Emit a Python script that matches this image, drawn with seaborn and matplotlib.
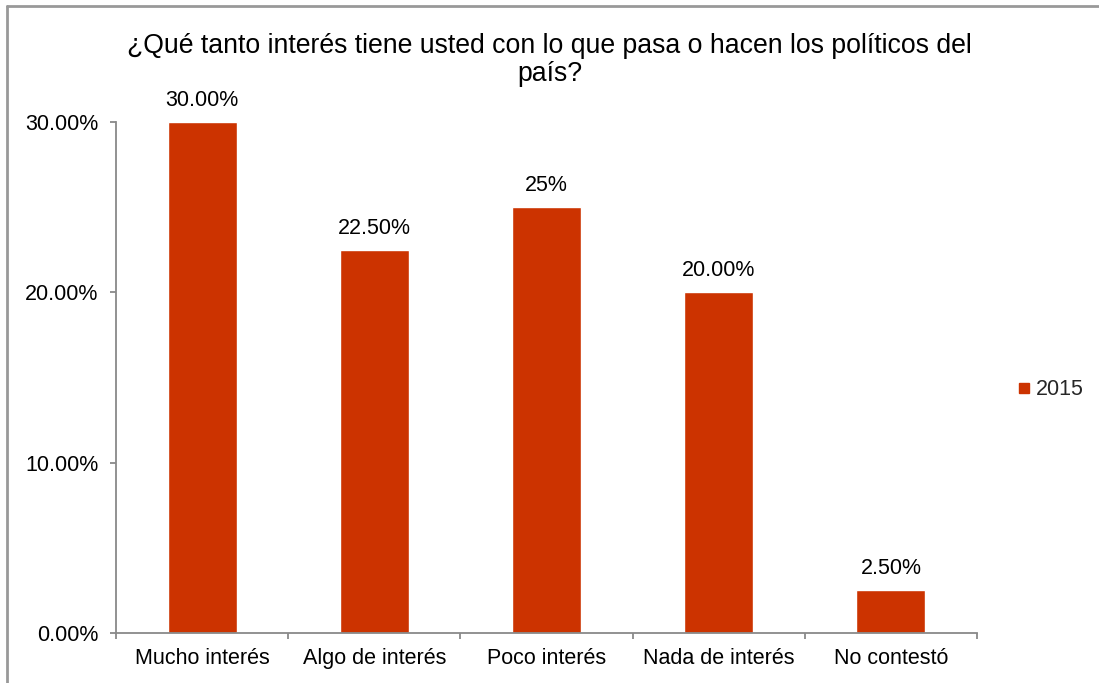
import matplotlib
matplotlib.use("Agg")
import matplotlib.pyplot as plt
import matplotlib.ticker as mticker
from matplotlib.lines import Line2D
import pandas as pd
import seaborn as sns

categories = ["Mucho interés", "Algo de interés", "Poco interés", "Nada de interés", "No contestó"]
values = [0.30, 0.225, 0.25, 0.20, 0.025]
value_labels = ["30.00%", "22.50%", "25%", "20.00%", "2.50%"]
series_name = "2015"
title = "¿Qué tanto interés tiene usted con lo que pasa o hacen los políticos del\npaís?"

sns.set_theme(style="white")
plt.rcParams["font.family"] = ["Liberation Sans", "DejaVu Sans"]

bar_color = "#CC3300"
axis_color = "#898989"
fs = 15.5

df = pd.DataFrame({"categoria": categories, "valor": values, "serie": series_name})

fig = plt.figure(figsize=(10.99, 6.83), dpi=100)
ax = fig.add_axes([0.1056, 0.0732, 0.7834, 0.7482])

sns.barplot(data=df, x="categoria", y="valor", hue="serie", palette=[bar_color],
            width=0.4, ax=ax, legend=False, saturation=1)

ax.set_xlim(-0.5, len(categories) - 0.5)
ax.set_ylim(0, 0.30)
ax.set_yticks([0, 0.10, 0.20, 0.30])
ax.yaxis.set_major_formatter(mticker.FuncFormatter(lambda v, _: f"{v*100:.2f}%"))
ax.set_xlabel("")
ax.set_ylabel("")

# category ticks sit between the bars
ax.set_xticks(range(len(categories)))
ax.set_xticks([i - 0.5 for i in range(len(categories) + 1)], minor=True)
ax.tick_params(axis="x", which="both", bottom=True)
ax.tick_params(axis="y", which="both", left=True)
ax.tick_params(axis="x", which="major", length=0, labelsize=fs, pad=11, labelcolor="black")
ax.tick_params(axis="x", which="minor", length=4.5, width=1.3, color=axis_color, direction="out")
ax.tick_params(axis="y", which="major", length=4.5, width=1.3, color=axis_color, direction="out",
               labelsize=fs, pad=8, labelcolor="black")

for side in ["top", "right"]:
    ax.spines[side].set_visible(False)
for side in ["left", "bottom"]:
    ax.spines[side].set_color(axis_color)
    ax.spines[side].set_linewidth(1.3)

for i, (v, lab) in enumerate(zip(values, value_labels)):
    ax.annotate(lab, (i, v), xytext=(0, 8), textcoords="offset points",
                ha="center", va="bottom", fontsize=fs, color="black")

fig.text(0.5, 0.952, title, ha="center", va="top", fontsize=19.2, color="black",
         linespacing=1.12)

handle = Line2D([], [], marker="s", linestyle="none", markersize=7.5,
                markerfacecolor=bar_color, markeredgecolor=bar_color)
fig.legend([handle], [series_name], loc="center left", bbox_to_anchor=(0.904, 0.429),
           frameon=False, fontsize=fs, handletextpad=0.05, handlelength=1.0)

# chart frame lines along the top and left edges
fig.add_artist(Line2D([0.0068, 1.0], [0.991, 0.991], transform=fig.transFigure,
                      color="#999999", linewidth=2))
fig.add_artist(Line2D([0.0068, 0.0068], [0.0, 0.991], transform=fig.transFigure,
                      color="#999999", linewidth=2))

fig.savefig("out.png", dpi=100)
